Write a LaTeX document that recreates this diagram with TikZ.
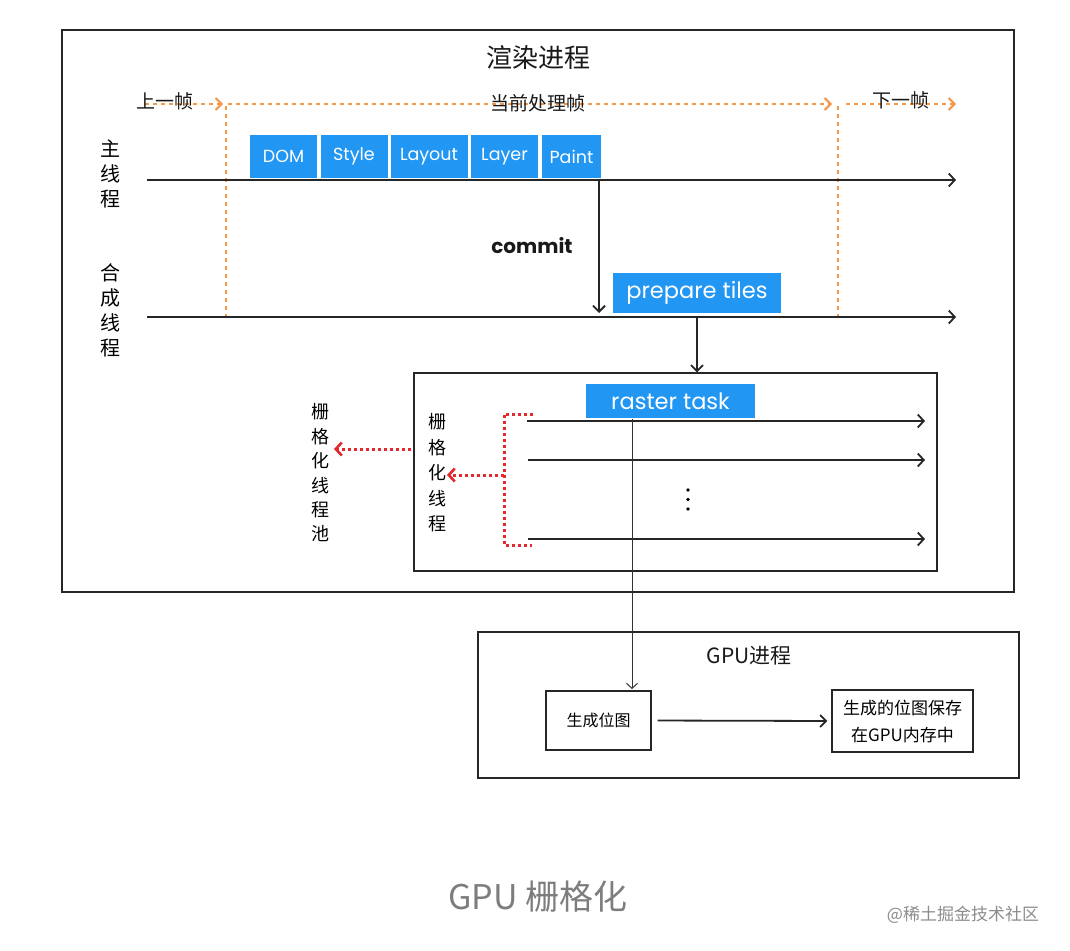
\documentclass[tikz,border=0pt]{standalone}
\usepackage{fontspec}
\setmainfont{Noto Sans CJK SC}
\newfontfamily\popfont{Poppins}
\usetikzlibrary{arrows.meta}
\definecolor{tileblue}{RGB}{33,150,243}
\definecolor{frameorange}{RGB}{245,152,72}
\definecolor{dotred}{RGB}{228,40,45}
\definecolor{capgray}{RGB}{125,125,125}
\begin{document}
\begin{tikzpicture}[x=1pt,y=-1pt,
  frame/.style={draw=black!85, line width=1.6pt, inner sep=0, fill=none},
  plainbox/.style={draw=black!85, line width=1.2pt, inner sep=0, fill=white},
  bluebox/.style={fill=tileblue, text=white, inner sep=0, font=\popfont\fontsize{17.5}{20}\selectfont},
  bigblue/.style={fill=tileblue, text=white, inner sep=0, font=\popfont\fontsize{22.5}{26}\selectfont},
  vtext/.style={align=center, inner sep=0},
  thread/.style={draw=black!85, line width=1.8pt, -{Straight Barb[length=6pt,width=13pt,line width=1.8pt]}},
  thinarrow/.style={draw=black!85, line width=1.8pt, -{Straight Barb[length=6pt,width=12pt,line width=1.8pt]}},
  hairarrow/.style={draw=black!80, line width=0.9pt, -{Straight Barb[length=5pt,width=11pt,line width=1pt]}},
  framearrow/.style={draw=frameorange, line width=2pt, dash pattern=on 4pt off 4pt, -{Straight Barb[length=6pt,width=12pt,line width=2pt]}},
  frameline/.style={draw=frameorange, line width=2pt, dash pattern=on 4pt off 4pt},
  reddot/.style={draw=dotred, line width=3pt, dash pattern=on 3pt off 3pt},
  redarrow/.style={draw=dotred, line width=3pt, dash pattern=on 3pt off 3pt, -{Straight Barb[length=6pt,width=13pt,line width=2.6pt]}},
  label/.style={inner sep=0, text=black!90}
]
\useasboundingbox (0,0) rectangle (1070,950);
\fill[white] (0,0) rectangle (1070,950);

% render process frame
\node[frame, minimum width=952pt, minimum height=562pt] (render) at (538,311) {};
\node[label, font=\fontsize{26}{30}\selectfont] (rtitle) at (538,58) {渲染进程};

% frame labels and dashed arrows
\coordinate (p1) at (145,104);
\coordinate (p2) at (223,104);
\coordinate (c1) at (228,104);
\coordinate (c2) at (832,104);
\coordinate (n1) at (846,104);
\coordinate (n2) at (956,104);
\draw[framearrow] (p1) -- (p2);
\draw[framearrow] (c1) -- (c2);
\draw[framearrow] (n1) -- (n2);
\node[label, font=\fontsize{19}{22}\selectfont] (prevf) at (165,101) {上一帧};
\node[label, font=\fontsize{19}{22}\selectfont] (curf) at (538,103) {当前处理帧};
\node[label, font=\fontsize{19}{22}\selectfont] (nextf) at (901,100) {下一帧};
\coordinate (v1a) at (226,106);
\coordinate (v1b) at (226,316);
\coordinate (v2a) at (838,106);
\coordinate (v2b) at (838,316);
\draw[frameline] (v1a) -- (v1b);
\draw[frameline] (v2a) -- (v2b);

% main thread
\node[vtext, font=\fontsize{20}{25}\selectfont] (mainlbl) at (110,174) {主\\线\\程};
\coordinate (m1) at (147,180);
\coordinate (m2) at (956,180);
\draw[thread] (m1) -- (m2);
\node[bluebox, minimum width=67pt, minimum height=43pt] (dom) at (283.5,156.5) {DOM};
\node[bluebox, minimum width=67pt, minimum height=43pt] (style) at (354,156.5) {Style};
\node[bluebox, minimum width=77pt, minimum height=43pt] (layout) at (429,156.5) {Layout};
\node[bluebox, minimum width=67pt, minimum height=43pt] (layer) at (504.5,156.5) {Layer};
\node[bluebox, minimum width=59pt, minimum height=43pt] (paint) at (571.5,156.5) {Paint};

% commit
\coordinate (k1) at (599,181);
\coordinate (k2) at (599,313);
\draw[thinarrow] (k1) -- (k2);
\node[label, font=\popfont\bfseries\fontsize{20}{24}\selectfont] (commit) at (532,246) {commit};

% compositor thread
\node[vtext, font=\fontsize{20}{25}\selectfont] (complbl) at (110,310) {合\\成\\线\\程};
\coordinate (s1) at (147,317);
\coordinate (s2) at (956,317);
\draw[thread] (s1) -- (s2);
\node[bigblue, minimum width=168pt, minimum height=40pt] (ptiles) at (697,293) {prepare tiles};

% raster pool box
\node[plainbox, minimum width=523pt, minimum height=198pt] (inner) at (675.5,472) {};
\coordinate (q1) at (697,318);
\draw[thinarrow] (q1) -- (q1 |- inner.north);
\node[bigblue, minimum width=169pt, minimum height=34pt] (raster) at (670.5,401) {raster task};

\coordinate (t1a) at (527,421);
\coordinate (t1b) at (925,421);
\coordinate (t2a) at (528,460);
\coordinate (t2b) at (925,460);
\coordinate (t3a) at (528,539);
\coordinate (t3b) at (925,539);
\draw[thread] (t1a) -- (t1b);
\draw[thread] (t2a) -- (t2b);
\draw[thread] (t3a) -- (t3b);
\fill[black] (688,490) circle (1.8pt);
\fill[black] (688,499.5) circle (1.8pt);
\fill[black] (688,509) circle (1.8pt);

% red bracket
\coordinate (b1) at (533,414);
\coordinate (b2) at (504,414);
\coordinate (b3) at (504,545);
\coordinate (b4) at (532,545);
\draw[reddot] (b1) -- (b2) -- (b3) -- (b4);
\coordinate (ra) at (504,475);
\node[vtext, font=\fontsize{18}{25.5}\selectfont] (rthread) at (437,473) {栅\\格\\化\\线\\程};
\draw[redarrow] (ra) -- (447,475);
\node[vtext, font=\fontsize{18}{24.4}\selectfont] (rpool) at (320,473) {栅\\格\\化\\线\\程\\池};
\coordinate (pa) at (411,449);
\draw[redarrow] (pa) -- (334,449);

% GPU process
\node[frame, minimum width=541pt, minimum height=146pt] (gpu) at (748.5,705) {};
\node[label, font=\fontsize{21}{24}\selectfont] (gtitle) at (749,656) {GPU进程};
\node[plainbox, minimum width=105pt, minimum height=59pt, font=\fontsize{16}{20}\selectfont] (gen) at (598.5,720.5) {生成位图};
\node[plainbox, minimum width=141pt, minimum height=62pt, align=center, font=\fontsize{17}{27}\selectfont] (store) at (902.5,721) {生成的位图保存\\在GPU内存中};
\coordinate (r1) at (632,419);
\coordinate (r2) at (632,689);
\draw[hairarrow] (r1) -- (r2);
\draw[thinarrow, shorten <=6pt, shorten >=4pt] (gen.east) -- (store.west);

% caption
\node[inner sep=0, text=capgray, font=\fontsize{34}{38}\selectfont] (caption) at (538,897) {GPU 栅格化};
\node[inner sep=0, text=black!45, font=\fontsize{17}{20}\selectfont] (wm) at (963,915) {@稀土掘金技术社区};
\end{tikzpicture}
\end{document}
